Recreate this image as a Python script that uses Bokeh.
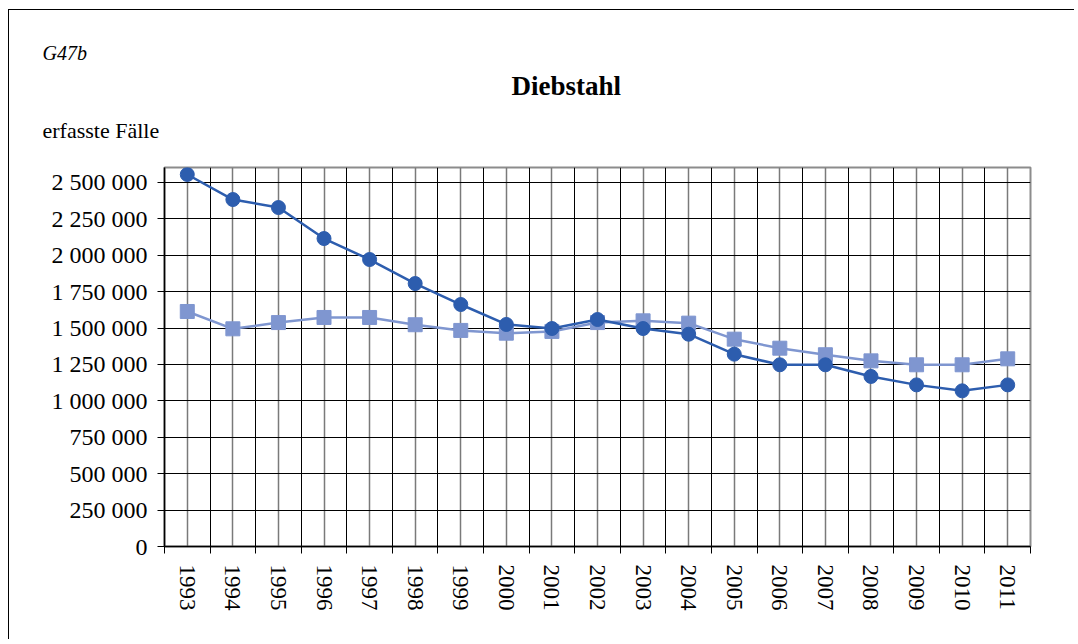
from bokeh.plotting import figure
from bokeh.models import FixedTicker, Range1d, Title, ColumnDataSource
from bokeh.embed import file_html
from bokeh.resources import INLINE

years = list(range(1993, 2012))
diebstahl_a = [2555000, 2383000, 2328000, 2115000, 1971000, 1806000, 1662000, 1525000,
               1497000, 1559000, 1497000, 1458000, 1321000, 1248000, 1248000, 1168000,
               1110000, 1069000, 1110000]
diebstahl_b = [1614000, 1495000, 1538000, 1573000, 1573000, 1523000, 1484000, 1465000,
               1477000, 1538000, 1550000, 1534000, 1424000, 1362000, 1317000, 1275000,
               1248000, 1248000, 1289000]
y_ticks = [0, 250000, 500000, 750000, 1000000, 1250000, 1500000, 1750000, 2000000, 2250000, 2500000]
y_tick_labels = ["0", "250 000", "500 000", "750 000", "1 000 000", "1 250 000", "1 500 000",
                 "1 750 000", "2 000 000", "2 250 000", "2 500 000"]
title_text = "Diebstahl"
code_text = "G47b"
ylabel_text = "erfasste Fälle"

FONT = "Liberation Serif"
DARK = "#2D5DAE"
LIGHT = "#7F96D0"

OX, OY = 8, 9            # page offset of the figure (outer border)
W, H = 1066, 630
FL, FR, FT, FB = 163 - OX, 1029 - OX, 166 - OY, 545 - OY

p = figure(width=W, height=H, output_backend="svg", toolbar_location=None,
           x_range=Range1d(years[0] - 0.5, years[-1] + 0.5),
           y_range=Range1d(0, 2603000),
           min_border_left=FL, min_border_right=W - FR,
           min_border_top=FT, min_border_bottom=H - FB)
p.styles = {"margin-left": f"{OX}px", "margin-top": f"{OY}px",
            "border-top": "1px solid black", "border-left": "1px solid black"}
p.background_fill_color = "white"
p.border_fill_color = "white"
p.outline_line_color = "#8C8C8C"
p.outline_line_width = 2

boundaries = [y - 0.5 for y in years] + [years[-1] + 0.5]
p.xaxis.ticker = FixedTicker(ticks=years, minor_ticks=boundaries)
p.xaxis.major_label_overrides = {y: str(y) for y in years}
p.xaxis.major_tick_line_color = None
p.xaxis.minor_tick_line_color = "black"
p.xaxis.minor_tick_out = 7
p.xaxis.minor_tick_in = 0
p.xaxis.major_label_orientation = "vertical"
p.xaxis.major_label_standoff = 11
p.xaxis.axis_line_color = "black"
p.xaxis.axis_line_width = 1.5
p.xaxis.major_label_text_font_size = "23px"

p.yaxis.ticker = FixedTicker(ticks=y_ticks)
p.yaxis.major_label_overrides = {t: l for t, l in zip(y_ticks, y_tick_labels)}
p.yaxis.minor_tick_line_color = None
p.yaxis.major_tick_out = 7
p.yaxis.major_tick_in = 0
p.yaxis.major_label_standoff = 10
p.yaxis.axis_line_color = "black"
p.yaxis.axis_line_width = 1.5
p.yaxis.major_label_text_font_size = "24px"

for ax in (p.xaxis, p.yaxis):
    ax.major_label_text_font = FONT
    ax.major_label_text_color = "black"

p.xgrid.grid_line_color = "#7A7A7A"
p.xgrid.grid_line_width = 1.5
p.xgrid.minor_grid_line_color = "black"
p.xgrid.minor_grid_line_width = 1
p.ygrid.grid_line_color = "black"
p.ygrid.grid_line_width = 1

src = ColumnDataSource(dict(x=years, a=diebstahl_a, b=diebstahl_b))
p.line("x", "b", source=src, line_color=LIGHT, line_width=2.5)
p.scatter("x", "b", source=src, marker="square", size=14, fill_color=LIGHT, line_color=LIGHT)
p.line("x", "a", source=src, line_color=DARK, line_width=2.5)
p.scatter("x", "a", source=src, marker="circle", size=14, fill_color=DARK, line_color=DARK)

p.title = None
p.add_layout(Title(text=ylabel_text, align="left", offset=-122, standoff=50,
                   text_font=FONT, text_font_size="22px", text_font_style="normal",
                   text_color="black"), "above")
p.add_layout(Title(text=title_text, align="left", offset=347, standoff=-20,
                   text_font=FONT, text_font_size="27px", text_font_style="bold",
                   text_color="black"), "above")
p.add_layout(Title(text=code_text, align="left", offset=-122, standoff=30,
                   text_font=FONT, text_font_size="20px", text_font_style="italic",
                   text_color="black"), "above")

open("out.html", "w").write(file_html(p, INLINE))
